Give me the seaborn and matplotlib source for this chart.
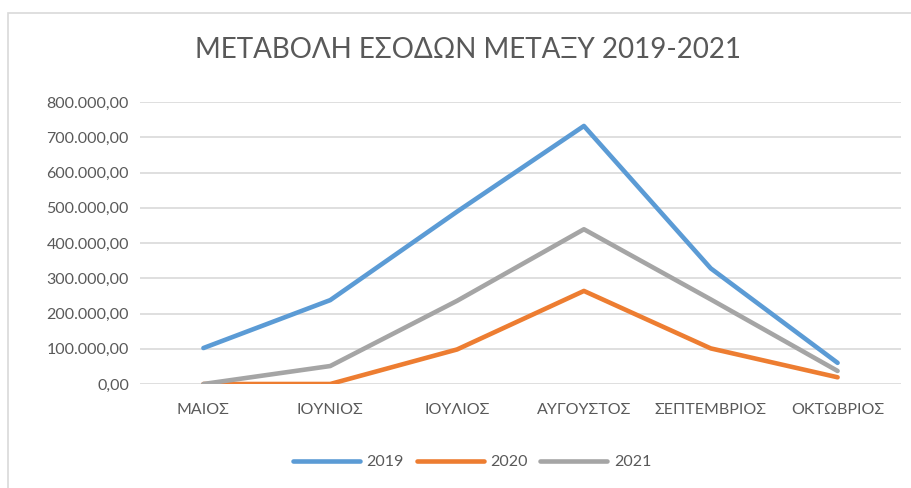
import pandas as pd
import seaborn as sns
import matplotlib.pyplot as plt
from matplotlib.ticker import FuncFormatter
from matplotlib.patches import Rectangle

# data
months = ['ΜΑΙΟΣ', 'ΙΟΥΝΙΟΣ', 'ΙΟΥΛΙΟΣ', 'ΑΥΓΟΥΣΤΟΣ', 'ΣΕΠΤΕΜΒΡΙΟΣ', 'ΟΚΤΩΒΡΙΟΣ']
income_2019 = [102000, 238000, 489000, 732000, 328000, 60000]
income_2020 = [0, 0, 98000, 264000, 101000, 19000]
income_2021 = [0, 51000, 236000, 439000, 240000, 37000]
years = ['2019', '2020', '2021']

df = pd.DataFrame({'Μήνας': months * 3,
                   'Έσοδα': income_2019 + income_2020 + income_2021,
                   'Έτος': [y for y in years for _ in months]})

sns.set_style('white')
plt.rcParams['font.family'] = ['Lato', 'DejaVu Sans']

fig = plt.figure(figsize=(9.12, 4.88), dpi=100)
ax = fig.add_axes([140 / 912, 1 - 384 / 488, 761 / 912, 282 / 488])

palette = {'2019': '#5B9BD5', '2020': '#ED7D31', '2021': '#A5A5A5'}
sns.lineplot(data=df, x='Μήνας', y='Έσοδα', hue='Έτος', palette=palette,
             linewidth=3.3, sort=False, ax=ax, legend=True)
for line in ax.lines:
    line.set_solid_capstyle('round')

ax.set_xlim(-0.5, len(months) - 0.5)
ax.set_ylim(0, 800000)
ax.set_yticks(range(0, 800001, 100000))
# greek number format: 800.000,00
ax.yaxis.set_major_formatter(FuncFormatter(
    lambda v, p: f'{v:,.2f}'.replace(',', 'X').replace('.', ',').replace('X', '.')))
ax.grid(axis='y', color='#D9D9D9', linewidth=1.2)
ax.set_axisbelow(True)
for s in ax.spines.values():
    s.set_visible(False)
ax.tick_params(axis='both', length=0, labelsize=11.5, colors='#595959')
ax.tick_params(axis='x', pad=14)
ax.tick_params(axis='y', pad=8)
ax.set_xlabel('')
ax.set_ylabel('')

fig.text(468 / 912, 1 - 50 / 488, 'ΜΕΤΑΒΟΛΗ ΕΣΟΔΩΝ ΜΕΤΑΞΥ 2019-2021',
         ha='center', va='center', fontsize=20, color='#595959')

leg = ax.legend(loc='center', bbox_to_anchor=(472 / 912, 1 - 462 / 488),
                bbox_transform=fig.transFigure, ncol=3, frameon=False,
                fontsize=11.5, handlelength=4.2, columnspacing=0.8, handletextpad=0.4)
for t in leg.get_texts():
    t.set_color('#595959')
for h in leg.get_lines():
    h.set_linewidth(3.3)
    h.set_solid_capstyle('round')

fig.patches.append(Rectangle((8 / 912, -0.1), 1.2, 1 - 13 / 488 + 0.1,
                             transform=fig.transFigure, fill=False,
                             edgecolor='#D9D9D9', linewidth=1.2))

fig.savefig('out.png', dpi=100)
